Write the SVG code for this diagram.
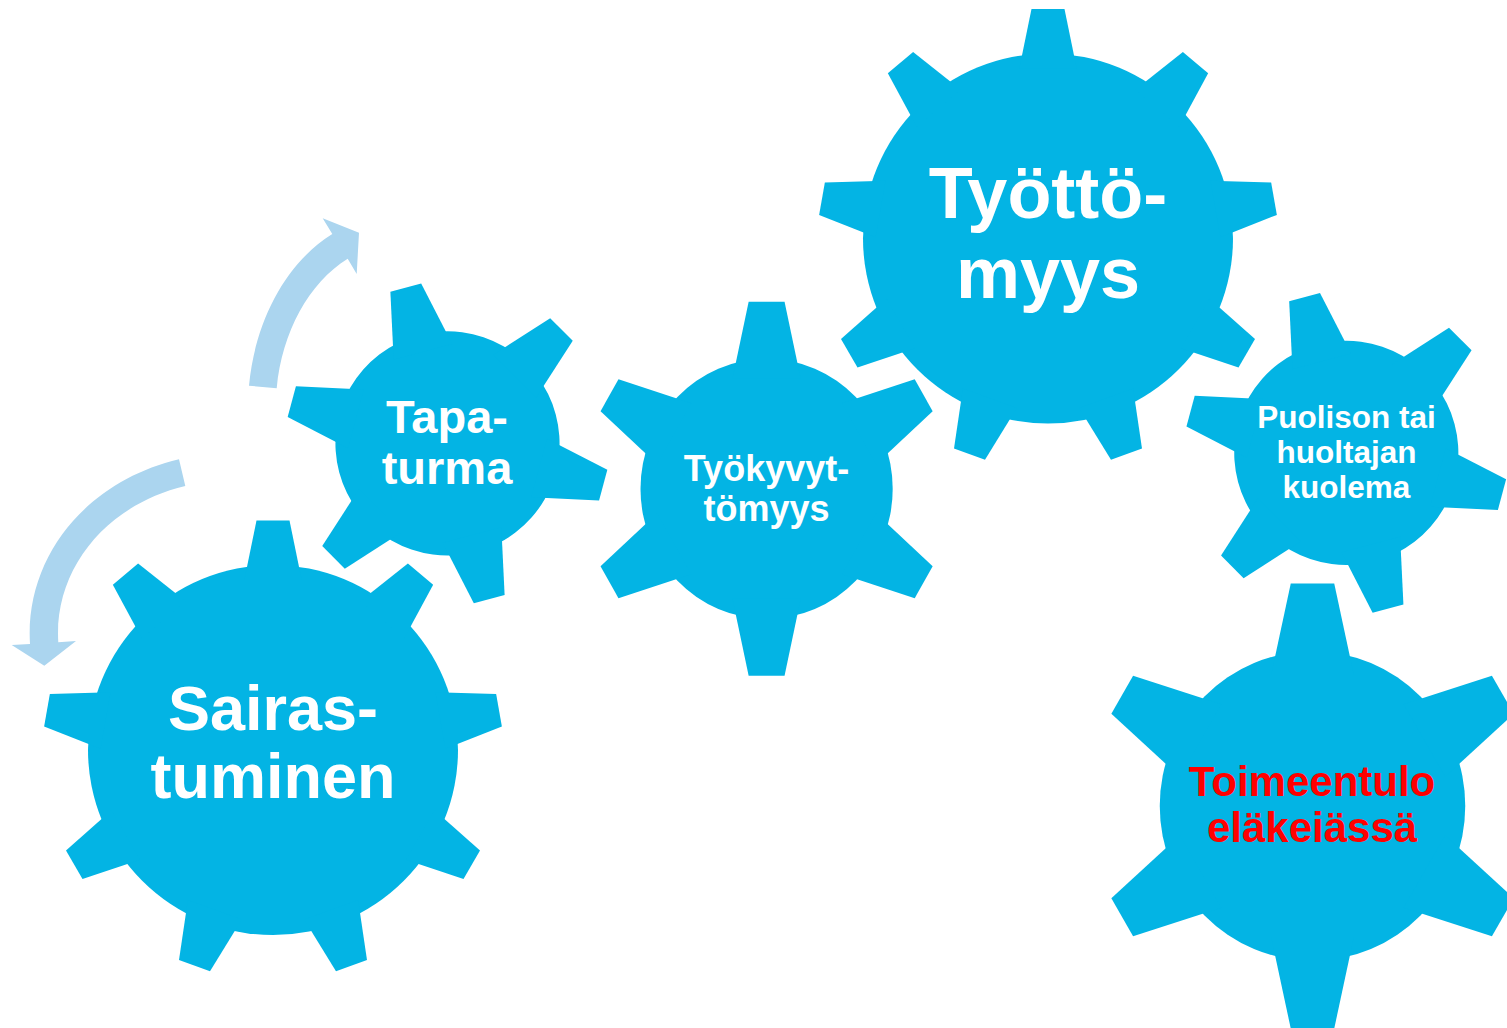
<svg xmlns="http://www.w3.org/2000/svg" width="1507" height="1028" viewBox="0 0 1507 1028">
<style>
.gear{fill:#03B4E4}
.lbl{font-family:"Liberation Sans",Arial,sans-serif;font-weight:bold;fill:#FFFFFF;text-anchor:middle}
.red{fill:#FF0000}
.arr{fill:#ABD5EF}
</style>
<defs>
<g id="g9">
<circle r="185"/>
<path id="t9" d="M-28.7,-170 L-16.5,-229.5 L16.5,-229.5 L28.7,-170 Z"/>
<use href="#t9" transform="rotate(40)"/>
<use href="#t9" transform="rotate(80)"/>
<use href="#t9" transform="rotate(120)"/>
<use href="#t9" transform="rotate(160)"/>
<use href="#t9" transform="rotate(200)"/>
<use href="#t9" transform="rotate(240)"/>
<use href="#t9" transform="rotate(280)"/>
<use href="#t9" transform="rotate(320)"/>
</g>
<g id="g6">
<circle r="130"/>
<path id="t6" d="M-35.2,-110 L-18.5,-187 L18.5,-187 L35.2,-110 Z"/>
<use href="#t6" transform="rotate(60)"/>
<use href="#t6" transform="rotate(120)"/>
<use href="#t6" transform="rotate(180)"/>
<use href="#t6" transform="rotate(240)"/>
<use href="#t6" transform="rotate(300)"/>
</g>
</defs>
<rect width="1507" height="1028" fill="#FFFFFF"/>
<g id="connectors">
<path class="arr" d="M249,385.7 C255.2,319.8 286.6,262.4 332.3,234 L322.7,218.3 L359,232.7 L356.7,274 L347.7,258.7 C308.8,282.9 282,331.9 276.7,388.3 Z"/>
<path class="arr" d="M179,459.3 C86,481.3 24.6,557.4 30,644 L11.7,645 L44.3,665.7 L76,641 L58.3,642.3 C53.7,569.2 106.1,504.7 185.3,486 Z"/>
</g>
<g id="sairastuminen">
<use class="gear" href="#g9" transform="translate(273,750)"/>
<text class="lbl" font-size="63" x="273" y="730">Sairas-</text>
<text class="lbl" font-size="63" x="273" y="798">tuminen</text>
</g>
<g id="tapaturma">
<use class="gear" href="#g6" transform="translate(447.5,443.4) rotate(-15) scale(0.862)"/>
<text class="lbl" font-size="47" x="447" y="433">Tapa-</text>
<text class="lbl" font-size="47" x="447" y="484">turma</text>
</g>
<g id="tyokyvyttomyys">
<use class="gear" href="#g6" transform="translate(766.6,488.8) scale(0.97,1)"/>
<text class="lbl" font-size="36" x="766.5" y="481">Työkyvyt-</text>
<text class="lbl" font-size="36" x="766.5" y="521">tömyys</text>
</g>
<g id="tyottomyys">
<use class="gear" href="#g9" transform="translate(1048,238.5)"/>
<text class="lbl" font-size="72" x="1048" y="218">Työttö-</text>
<text class="lbl" font-size="72" x="1048" y="298">myys</text>
</g>
<g id="puolison">
<use class="gear" href="#g6" transform="translate(1346.3,452.9) rotate(-15) scale(0.862)"/>
<text class="lbl" font-size="31.5" x="1346.5" y="428">Puolison tai</text>
<text class="lbl" font-size="31.5" x="1346.5" y="463">huoltajan</text>
<text class="lbl" font-size="31.5" x="1346.5" y="498">kuolema</text>
</g>
<g id="toimeentulo">
<use class="gear" href="#g6" transform="translate(1312.5,806) scale(1.175,1.19)"/>
<text class="lbl red" font-size="42" x="1312" y="796">Toimeentulo</text>
<text class="lbl red" font-size="42" x="1312" y="842">eläkeiässä</text>
</g>
</svg>
